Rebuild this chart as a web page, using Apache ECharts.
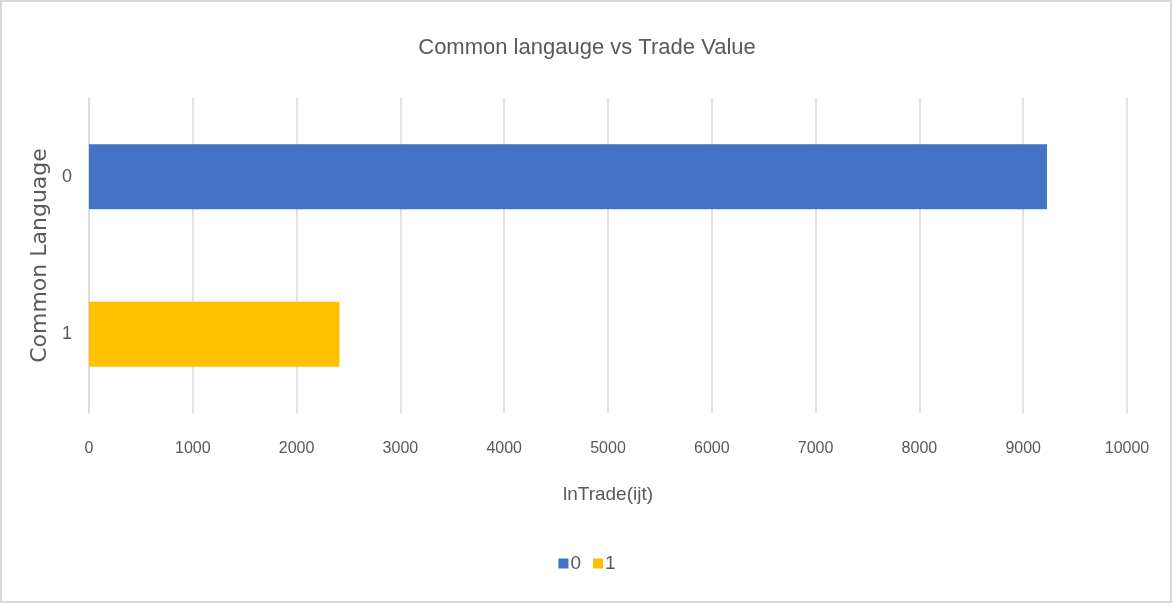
<!DOCTYPE html>
<html>
<head>
<meta charset="utf-8">
<script src="https://cdn.jsdelivr.net/npm/echarts@6/dist/echarts.min.js"></script>
<style>
  html, body { margin: 0; padding: 0; background: #fff; }
  #chart { width: 1174px; height: 605px; }
</style>
</head>
<body>
<div id="chart"></div>
<script>
  // categories on the y axis (top to bottom) and one value per series
  const categories = ['0', '1']
  const seriesNames = ['0', '1']
  const values0 = [9229, null]
  const values1 = [null, 2413]
  const colors = ['#4472C4', '#FFC000']

  const font = '"Liberation Sans", sans-serif'
  const chart = echarts.init(document.getElementById('chart'))

  chart.setOption({
    backgroundColor: '#fff',
    animation: false,
    title: {
      text: 'Common langauge vs Trade Value',
      left: 'center',
      top: 32,
      textStyle: { fontFamily: font, fontWeight: 'normal', fontSize: 22, color: '#595959' }
    },
    legend: {
      bottom: 27,
      left: 'center',
      itemWidth: 10,
      itemHeight: 10,
      itemGap: 12,
      icon: 'rect',
      data: seriesNames,
      textStyle: { fontFamily: font, fontSize: 19, color: '#595959', padding: [0, 0, 0, -3] }
    },
    grid: {
      left: 89,
      right: 47,
      top: 98,
      bottom: 192
    },
    xAxis: {
      type: 'value',
      min: 0,
      max: 10000,
      interval: 1000,
      name: 'lnTrade(ijt)',
      nameLocation: 'middle',
      nameGap: 72,
      nameTextStyle: { fontFamily: font, fontSize: 19, color: '#595959' },
      axisLine: { show: false },
      axisTick: { show: false },
      axisLabel: { fontFamily: font, fontSize: 16, color: '#595959', margin: 28, formatter: v => String(v) },
      splitLine: { lineStyle: { color: '#d9d9d9', width: 1.5 } }
    },
    yAxis: {
      type: 'category',
      inverse: true,
      data: categories,
      name: 'Common Language',
      nameLocation: 'middle',
      nameRotate: 90,
      nameGap: 31,
      nameTextStyle: { fontFamily: '"DejaVu Sans", sans-serif', fontSize: 22, color: '#595959' },
      axisLine: { show: true, lineStyle: { color: '#d9d9d9', width: 1.5 } },
      axisTick: { show: false },
      axisLabel: { fontFamily: font, fontSize: 18, color: '#595959', margin: 17 }
    },
    graphic: [{
      type: 'rect',
      shape: { x: 1, y: 1, width: 1170, height: 601 },
      style: { fill: 'none', stroke: '#d9d9d9', lineWidth: 2 },
      silent: true
    }],
    series: [
      { name: seriesNames[0], type: 'bar', stack: 'total', barWidth: 65, data: values0, itemStyle: { color: colors[0] } },
      { name: seriesNames[1], type: 'bar', stack: 'total', barWidth: 65, data: values1, itemStyle: { color: colors[1] } }
    ]
  })
</script>
</body>
</html>
